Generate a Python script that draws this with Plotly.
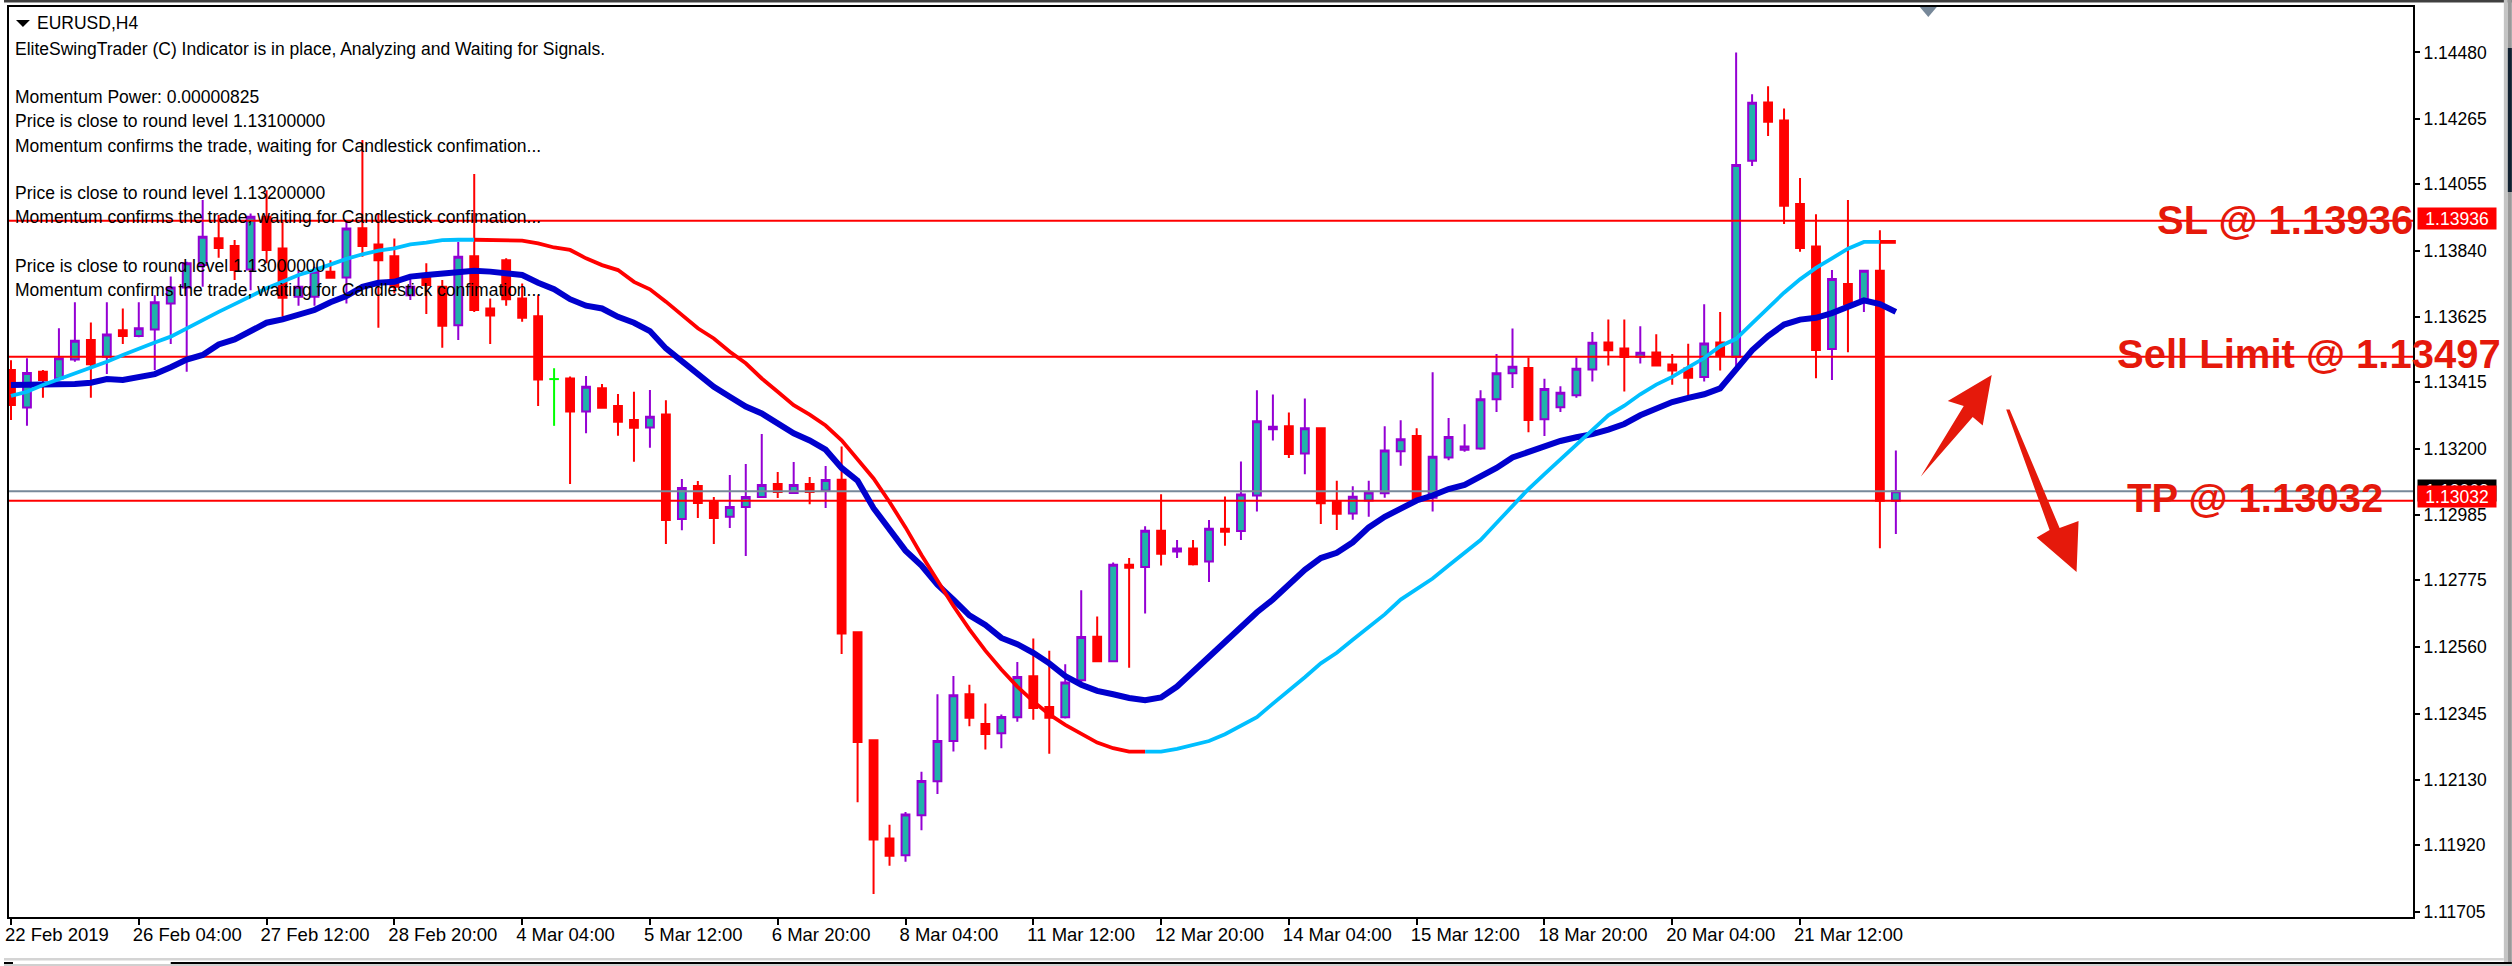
import plotly.graph_objects as go

# ---------- data ----------
tick_labels = ["22 Feb 2019","26 Feb 04:00","27 Feb 12:00","28 Feb 20:00","4 Mar 04:00","5 Mar 12:00",
               "6 Mar 20:00","8 Mar 04:00","11 Mar 12:00","12 Mar 20:00","14 Mar 04:00","15 Mar 12:00",
               "18 Mar 20:00","20 Mar 04:00","21 Mar 12:00"]
tick_bars = [0,8,16,24,32,40,48,56,64,72,80,88,96,104,112]
price_ticks = ["1.14480","1.14265","1.14055","1.13840","1.13625","1.13415","1.13200","1.12985",
               "1.12775","1.12560","1.12345","1.12130","1.11920","1.11705"]

opens = [1.13454,1.13333,1.13449,1.13427,1.13488,1.13551,1.13497,1.13583,1.13564,1.13585,
1.13669,1.13721,1.13793,1.13880,1.13855,1.13779,1.13949,1.13847,1.13691,1.13691,
1.13772,1.13753,1.13912,1.13860,1.13822,1.13696,1.13756,1.13723,1.13599,1.13822,
1.13653,1.13809,1.13685,1.13628,1.13425,1.13427,1.13320,1.13395,1.13338,1.13293,
1.13269,1.13311,1.12973,1.13080,1.13031,1.12980,1.13012,1.13044,1.13086,1.13057,
1.13086,1.13064,1.13100,1.12607,1.12259,1.11941,1.11887,1.12016,1.12126,1.12256,
1.12407,1.12311,1.12281,1.12333,1.12465,1.12366,1.12333,1.12452,1.12593,1.12514,
1.12825,1.12818,1.12935,1.12868,1.12878,1.12836,1.12942,1.12934,1.13049,1.13263,
1.13273,1.13185,1.13266,1.13028,1.12991,1.13033,1.13056,1.13192,1.13241,1.13042,
1.13172,1.13197,1.13201,1.13360,1.13444,1.13461,1.13295,1.13334,1.13373,1.13456,
1.13543,1.13524,1.13497,1.13511,1.13472,1.13459,1.13432,1.13543,1.13497,1.14130,
1.14318,1.14260,1.13990,1.13853,1.13522,1.13732,1.13673,1.13775,1.13032]

highs = [1.13486,1.13492,1.13454,1.13589,1.13673,1.13608,1.13673,1.13653,1.13673,1.13696,
1.13756,1.13804,1.14003,1.13955,1.13874,1.13960,1.14035,1.13933,1.13777,1.13788,
1.13809,1.13939,1.14197,1.13960,1.13879,1.13756,1.13799,1.13745,1.13868,1.14087,
1.13685,1.13815,1.13734,1.13696,1.13460,1.13433,1.13435,1.13409,1.13377,1.13384,
1.13390,1.13357,1.13102,1.13096,1.13044,1.13115,1.13151,1.13248,1.13125,1.13157,
1.13109,1.13144,1.13207,1.12607,1.12259,1.11986,1.12027,1.12157,1.12407,1.12466,
1.12438,1.12377,1.12342,1.12511,1.12587,1.12548,1.12504,1.12743,1.12658,1.12833,
1.12847,1.12950,1.13053,1.12905,1.12905,1.12970,1.13046,1.13159,1.13389,1.13375,
1.13317,1.13362,1.13269,1.13097,1.13079,1.13097,1.13273,1.13292,1.13266,1.13447,
1.13299,1.13279,1.13389,1.13506,1.13588,1.13495,1.13426,1.13402,1.13495,1.13577,
1.13617,1.13617,1.13596,1.13570,1.13506,1.13539,1.13667,1.13642,1.14480,1.14345,
1.14371,1.14299,1.14074,1.13957,1.13777,1.14003,1.13775,1.13906,1.13194]

lows = [1.13293,1.13274,1.13365,1.13422,1.13481,1.13365,1.13441,1.13538,1.13560,1.13454,
1.13538,1.13449,1.13723,1.13817,1.13745,1.13712,1.13799,1.13626,1.13662,1.13662,
1.13750,1.13669,1.13820,1.13591,1.13702,1.13680,1.13635,1.13526,1.13551,1.13642,
1.13538,1.13662,1.13610,1.13338,1.13274,1.13086,1.13250,1.13330,1.13242,1.13158,
1.13203,1.12892,1.12937,1.12976,1.12892,1.12944,1.12854,1.13044,1.13041,1.13057,
1.13021,1.13009,1.12537,1.12058,1.11762,1.11853,1.11866,1.11968,1.12085,1.12222,
1.12304,1.12229,1.12233,1.12318,1.12325,1.12215,1.12329,1.12445,1.12511,1.12511,
1.12493,1.12668,1.12823,1.12847,1.12823,1.12770,1.12887,1.12905,1.12997,1.13227,
1.13170,1.13118,1.12957,1.12938,1.12971,1.12980,1.13042,1.13145,1.13033,1.12997,
1.13163,1.13190,1.13197,1.13319,1.13396,1.13253,1.13241,1.13319,1.13365,1.13417,
1.13469,1.13385,1.13475,1.13469,1.13407,1.13372,1.13417,1.13453,1.13463,1.14113,
1.14210,1.13926,1.13836,1.13428,1.13422,1.13512,1.13642,1.12879,1.12925]

closes = [1.13341,1.13445,1.13422,1.13492,1.13549,1.13473,1.13569,1.13564,1.13589,1.13673,
1.13721,1.13799,1.13885,1.13848,1.13777,1.13949,1.13842,1.13688,1.13723,1.13772,
1.13752,1.13911,1.13855,1.13809,1.13723,1.13723,1.13729,1.13597,1.13820,1.13648,
1.13630,1.13683,1.13623,1.13424,1.13425,1.13320,1.13400,1.13332,1.13287,1.13268,
1.13303,1.12970,1.13073,1.13025,1.12976,1.13012,1.13044,1.13083,1.13060,1.13083,
1.13060,1.13099,1.12603,1.12253,1.11938,1.11886,1.12019,1.12127,1.12256,1.12404,
1.12331,1.12279,1.12334,1.12463,1.12363,1.12331,1.12445,1.12592,1.12514,1.12825,
1.12816,1.12935,1.12861,1.12878,1.12827,1.12942,1.12932,1.13052,1.13289,1.13271,
1.13183,1.13266,1.13024,1.12990,1.13045,1.13059,1.13194,1.13231,1.13035,1.13174,
1.13238,1.13207,1.13360,1.13444,1.13465,1.13293,1.13393,1.13381,1.13458,1.13542,
1.13518,1.13496,1.13510,1.13469,1.13453,1.13429,1.13540,1.13500,1.14116,1.14317,
1.14256,1.13985,1.13848,1.13519,1.13748,1.13667,1.13775,1.13032,1.13063]

fast_ma = [1.13406,1.13406,1.13406,1.13405,1.13409,1.13413,1.13425,1.13422,1.13433,1.13441,
1.13463,1.13488,1.13503,1.13537,1.13553,1.13580,1.13607,1.13618,1.13635,1.13648,
1.13673,1.13693,1.13723,1.13736,1.13739,1.13756,1.13761,1.13766,1.13772,1.13775,
1.13772,1.13766,1.13761,1.13736,1.13715,1.13683,1.13662,1.13653,1.13626,1.13607,
1.13580,1.13524,1.13481,1.13438,1.13400,1.13368,1.13336,1.13314,1.13282,1.13250,
1.13227,1.13197,1.13138,1.13097,1.13008,1.12939,1.12871,1.12823,1.12761,1.12713,
1.12662,1.12631,1.12589,1.12569,1.12541,1.12507,1.12466,1.12438,1.12418,1.12407,
1.12395,1.12388,1.12397,1.12432,1.12480,1.12530,1.12576,1.12624,1.12672,1.12713,
1.12758,1.12809,1.12847,1.12864,1.12898,1.12946,1.12980,1.13008,1.13033,1.13049,
1.13070,1.13083,1.13111,1.13138,1.13172,1.13189,1.13211,1.13225,1.13237,1.13247,
1.13262,1.13280,1.13308,1.13329,1.13351,1.13364,1.13376,1.13395,1.13456,1.13518,
1.13564,1.13601,1.13617,1.13623,1.13638,1.13660,1.13679,1.13667,1.13642]

slow_ma = [1.13371,1.13384,1.13406,1.13424,1.13445,1.13462,1.13481,1.13503,1.13524,1.13543,
1.13562,1.13589,1.13618,1.13642,1.13667,1.13693,1.13718,1.13739,1.13761,1.13777,
1.13796,1.13813,1.13828,1.13840,1.13847,1.13860,1.13866,1.13874,1.13875,1.13875,
1.13875,1.13875,1.13872,1.13863,1.13850,1.13842,1.13815,1.13793,1.13777,1.13739,
1.13715,1.13675,1.13632,1.13589,1.13556,1.13513,1.13476,1.13427,1.13384,1.13341,
1.13310,1.13275,1.13227,1.13166,1.13104,1.13028,1.12946,1.12857,1.12775,1.12692,
1.12617,1.12548,1.12487,1.12432,1.12384,1.12342,1.12308,1.12278,1.12251,1.12233,
1.12222,1.12222,1.12222,1.12231,1.12245,1.12256,1.12278,1.12304,1.12333,1.12377,
1.12418,1.12462,1.12507,1.12541,1.12583,1.12624,1.12665,1.12713,1.12747,1.12781,
1.12823,1.12864,1.12905,1.12960,1.13015,1.13070,1.13118,1.13166,1.13214,1.13262,
1.13308,1.13339,1.13376,1.13407,1.13432,1.13463,1.13493,1.13531,1.13555,1.13605,
1.13654,1.13704,1.13747,1.13784,1.13815,1.13846,1.13868,1.13868,1.13868]

slow_turns = [0, 29, 71, 117, 118]   # bars where the slow line changes colour
doji_bar = 34
sl_level, sell_level, tp_level, bid_level = 1.13936, 1.13497, 1.13032, 1.13063

info_lines = ["EliteSwingTrader (C) Indicator is in place, Analyzing and Waiting for Signals.",
              "Momentum Power: 0.00000825",
              "Price is close to round level 1.13100000",
              "Momentum confirms the trade, waiting for Candlestick confimation...",
              "Price is close to round level 1.13200000",
              "Momentum confirms the trade, waiting for Candlestick confimation...",
              "Price is close to round level 1.13000000",
              "Momentum confirms the trade, waiting for Candlestick confimation..."]
info_rows = [49, 97, 121, 146, 193, 217, 266, 290]

# ---------- layout geometry (pixels of the 2512x966 page) ----------
W, H = 2512, 966
L, R, T, B = 5, 2413, 7, 917
X_RANGE = [(L - 7) / 16, (R - 7) / 16]
Y_RANGE = [1.116878, 1.146266]
FONT = "Liberation Sans"
RED_TXT = "#E5190B"

def px(x): return (x - L) / (R - L)
def py(y): return 1 - (y - T) / (B - T)
def poly(points, color):
    d = "M " + " L ".join(f"{px(a):.5f},{py(b):.5f}" for a, b in points) + " Z"
    return dict(type="path", xref="paper", yref="paper", path=d, fillcolor=color,
                line=dict(width=0), layer="above")
def box(x0, y0, x1, y1, color):
    return dict(type="rect", xref="paper", yref="paper", x0=px(x0), x1=px(x1), y0=py(y0), y1=py(y1),
                fillcolor=color, line=dict(width=0), layer="above")

bars = list(range(len(opens)))
keep = [i for i in bars if i != doji_bar]

fig = go.Figure()
fig.add_trace(go.Candlestick(
    x=keep,
    open=[opens[i] for i in keep], high=[highs[i] for i in keep],
    low=[lows[i] for i in keep], close=[closes[i] for i in keep],
    increasing=dict(line=dict(color="#9400D3", width=2), fillcolor="#20B2AA"),
    decreasing=dict(line=dict(color="#FF0000", width=2), fillcolor="#FF0000"),
    whiskerwidth=0, hoverinfo="skip", showlegend=False))
fig.add_trace(go.Scatter(x=[doji_bar, doji_bar, None, doji_bar - 0.3, doji_bar + 0.3],
                         y=[lows[doji_bar], highs[doji_bar], None, opens[doji_bar], closes[doji_bar]],
                         mode="lines", line=dict(color="#00FF00", width=2), hoverinfo="skip", showlegend=False))
for level, color in [(bid_level, "#778899"), (sl_level, "#FF0000"), (sell_level, "#FF0000"), (tp_level, "#FF0000")]:
    fig.add_trace(go.Scatter(x=X_RANGE, y=[level, level], mode="lines", line=dict(color=color, width=2),
                             hoverinfo="skip", showlegend=False))
fig.add_trace(go.Scatter(x=bars, y=fast_ma, mode="lines", line=dict(color="#0000CD", width=6),
                         hoverinfo="skip", showlegend=False))
for k, color in enumerate(["#00BFFF", "#FF0000", "#00BFFF", "#FF0000"]):
    a, b = slow_turns[k], slow_turns[k + 1]
    fig.add_trace(go.Scatter(x=bars[a:b + 1], y=slow_ma[a:b + 1], mode="lines",
                             line=dict(color=color, width=3.8), hoverinfo="skip", showlegend=False))

ann = []
def note(text, x, y, size=17.5, color="black", **kw):
    ann.append(dict(text=text, xref="paper", yref="paper", x=px(x), y=py(y), xanchor="left", yanchor="middle",
                    showarrow=False, font=dict(family=FONT, size=size, color=color), borderpad=0, **kw))

note("EURUSD,H4", 32, 23)
for text, row in zip(info_lines, info_rows):
    note(text, 10, row)

def big(text, x, level, shift):
    ann.append(dict(text=f"<b>{text}</b>", xref="paper", yref="y", x=px(x), y=level, xanchor="left", yanchor="middle",
                    yshift=shift, showarrow=False, font=dict(family=FONT, size=40, color=RED_TXT)))
big("SL @ 1.13936", 2155, sl_level, 1)
big("Sell Limit @ 1.13497", 2115, sell_level, 3)
big("TP @ 1.13032", 2125, tp_level, 3)

def tag(text, level, color, shift):
    ann.append(dict(text=text, xref="paper", yref="y", x=px(2457), y=level, xanchor="center", yanchor="middle",
                    yshift=shift, width=78, height=21, bgcolor=color, showarrow=False, borderpad=0,
                    font=dict(family=FONT, size=17.5, color="white")))
tag("1.13063", bid_level, "#000000", 1)
tag("1.13032", tp_level, "#FF0000", 4)
tag("1.13936", sl_level, "#FF0000", 2)

shapes = [
    box(0, 0, W, 2.5, "#404040"),
    box(2504, 0, 2508, 966, "#C4C4C4"),
    box(2508, 0, 2512, 966, "#9A9A9A"),
    box(2508, 48, 2512, 192, "#102030"),
    box(0, 958, 2504, 960.5, "#D4D4D4"),
    box(167, 962, 2512, 964, "#000000"),
    box(0, 962, 9, 964, "#000000"),
    box(0, 964, 2512, 966, "#D0D0D0"),
    poly([(12, 20), (26, 20), (19, 27)], "#000000"),
    poly([(1919, 7), (1936, 7), (1927.5, 17)], "#778899"),
    poly([(1920, 476.5), (1963, 406), (1947, 401), (1991, 375), (1982, 425.5), (1972, 417)], RED_TXT),
    poly([(2005.5, 409.5), (2009, 409.5), (2059, 528), (2078, 521), (2076, 572), (2036, 537.5), (2049, 530)], RED_TXT),
]

fig.update_layout(
    width=W, height=H, autosize=False,
    margin=dict(l=L, r=W - R, t=T, b=H - B, pad=0),
    paper_bgcolor="white", plot_bgcolor="white", showlegend=False,
    font=dict(family=FONT, size=17, color="black"),
    annotations=ann, shapes=shapes,
    xaxis=dict(range=X_RANGE, rangeslider=dict(visible=False), tickmode="array", tickvals=tick_bars, ticktext=tick_labels,
               ticks="outside", ticklen=6, tickwidth=2, tickcolor="black", showgrid=False, zeroline=False,
               showline=True, linecolor="black", linewidth=2, mirror=True, ticklabelshift=-8,
               ticklabelposition="outside right", tickfont=dict(family=FONT, size=18.5)),
    yaxis=dict(range=Y_RANGE, side="right", tickmode="array", tickvals=[float(v) for v in price_ticks], ticktext=price_ticks,
               ticks="outside", ticklen=5, tickwidth=2, tickcolor="black", showgrid=False, zeroline=False,
               showline=True, linecolor="black", linewidth=2, mirror=True, tickfont=dict(family=FONT, size=17.5)),
)
fig.write_html("out.html", config=dict(displayModeBar=False),
               post_script="document.body.style.margin='0';document.body.style.overflow='hidden';")
